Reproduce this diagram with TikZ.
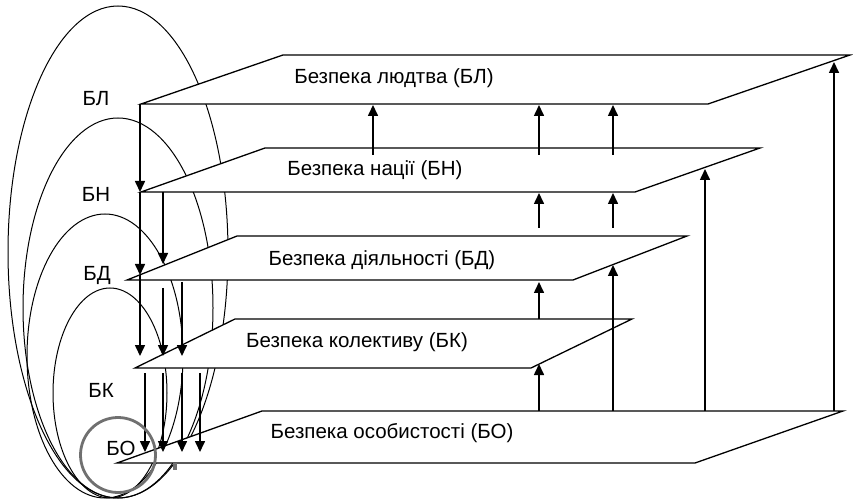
\documentclass[tikz,border=0pt]{standalone}
\usepackage{fontspec}
\setmainfont{Liberation Sans}
\usetikzlibrary{arrows.meta}
\definecolor{ringgray}{RGB}{112,112,112}
\begin{document}
\begin{tikzpicture}[x=1pt,y=-1pt,
  plane/.style={draw=black, fill=white, line width=1.3pt, line join=miter},
  ell/.style={draw=black, line width=1pt},
  arr/.style={line width=1.6pt, -{Triangle[length=11pt,width=10pt]}},
  lbl/.style={font=\fontsize{20.5}{24}\selectfont, inner sep=0pt},
]
\useasboundingbox (0,0) rectangle (853,502);

% nested spheres (ellipses)
\draw[ell] (118,252) ellipse [x radius=110pt, y radius=246pt];
\draw[ell] (118,308) ellipse [x radius=95pt, y radius=190pt];
\draw[ell] (105,356) ellipse [x radius=78pt, y radius=142pt];
\draw[ell] (110,393) ellipse [x radius=57pt, y radius=105pt];

% planes
\draw[plane] (141,104) coordinate (L1) -- (283,55) coordinate (L2) -- (850,55) coordinate (L3) -- (708,104) coordinate (L4) -- cycle;
\draw[plane] (141,192) coordinate (N1) -- (265,148) coordinate (N2) -- (760,148) coordinate (N3) -- (635,192) coordinate (N4) -- cycle;
\draw[plane] (127,280) coordinate (D1) -- (237,236) coordinate (D2) -- (687,236) coordinate (D3) -- (573,280) coordinate (D4) -- cycle;
\draw[plane] (135,368) coordinate (K1) -- (235,319) coordinate (K2) -- (632,319) coordinate (K3) -- (531,368) coordinate (K4) -- cycle;
\draw[plane] (117,463) coordinate (O1) -- (262,411) coordinate (O2) -- (843,411) coordinate (O3) -- (695,463) coordinate (O4) -- cycle;

\fill[ringgray] (173,463) rectangle (177,470);

% plane labels
\node[lbl] (tL) at (394,78) {Безпека людтва (БЛ)};
\node[lbl] (tN) at (375,170) {Безпека нації (БН)};
\node[lbl] (tD) at (382,260) {Безпека діяльності (БД)};
\node[lbl] (tK) at (357,342) {Безпека колективу (БК)};
\node[lbl] (tO) at (392,433) {Безпека особистості (БО)};

% up arrows
\coordinate (u1s) at (373,155); \coordinate (u1e) at (373,105);
\coordinate (u2s) at (539,155); \coordinate (u2e) at (539,105);
\coordinate (u3s) at (613,155); \coordinate (u3e) at (613,105);
\coordinate (u4s) at (539,228); \coordinate (u4e) at (539,193);
\coordinate (u5s) at (613,228); \coordinate (u5e) at (613,193);
\coordinate (u6s) at (539,319); \coordinate (u6e) at (539,282);
\coordinate (u7s) at (613,411); \coordinate (u7e) at (613,265);
\coordinate (u8s) at (539,411); \coordinate (u8e) at (539,364);
\coordinate (u9s) at (705,411); \coordinate (u9e) at (705,169);
\coordinate (u10s) at (834,411); \coordinate (u10e) at (834,62);
\foreach \i in {1,...,10} \draw[arr] (u\i s) -- (u\i e);

% down arrows
\coordinate (d1s) at (140,104); \coordinate (d1e) at (140,192);
\coordinate (d2s) at (140,192); \coordinate (d2e) at (140,275);
\coordinate (d3s) at (140,275); \coordinate (d3e) at (140,356);
\coordinate (d4s) at (163,192); \coordinate (d4e) at (163,264);
\coordinate (d5s) at (163,288); \coordinate (d5e) at (163,356);
\coordinate (d6s) at (182,282); \coordinate (d6e) at (182,356);
\coordinate (d7s) at (145,373); \coordinate (d7e) at (145,452);
\coordinate (d8s) at (163,373); \coordinate (d8e) at (163,452);
\coordinate (d9s) at (182,373); \coordinate (d9e) at (182,452);
\coordinate (d10s) at (200,373); \coordinate (d10e) at (200,452);
\foreach \i in {1,...,10} \draw[arr] (d\i s) -- (d\i e);

% innermost sphere
\draw[ringgray, line width=2.8pt] (118,455) circle [radius=37.5pt];

% sphere labels
\node[lbl] (sL) at (96,99) {БЛ};
\node[lbl] (sN) at (96,194) {БН};
\node[lbl] (sD) at (97,275) {БД};
\node[lbl] (sK) at (101,390) {БК};
\node[lbl] (sO) at (121,448) {БО};
\end{tikzpicture}
\end{document}
